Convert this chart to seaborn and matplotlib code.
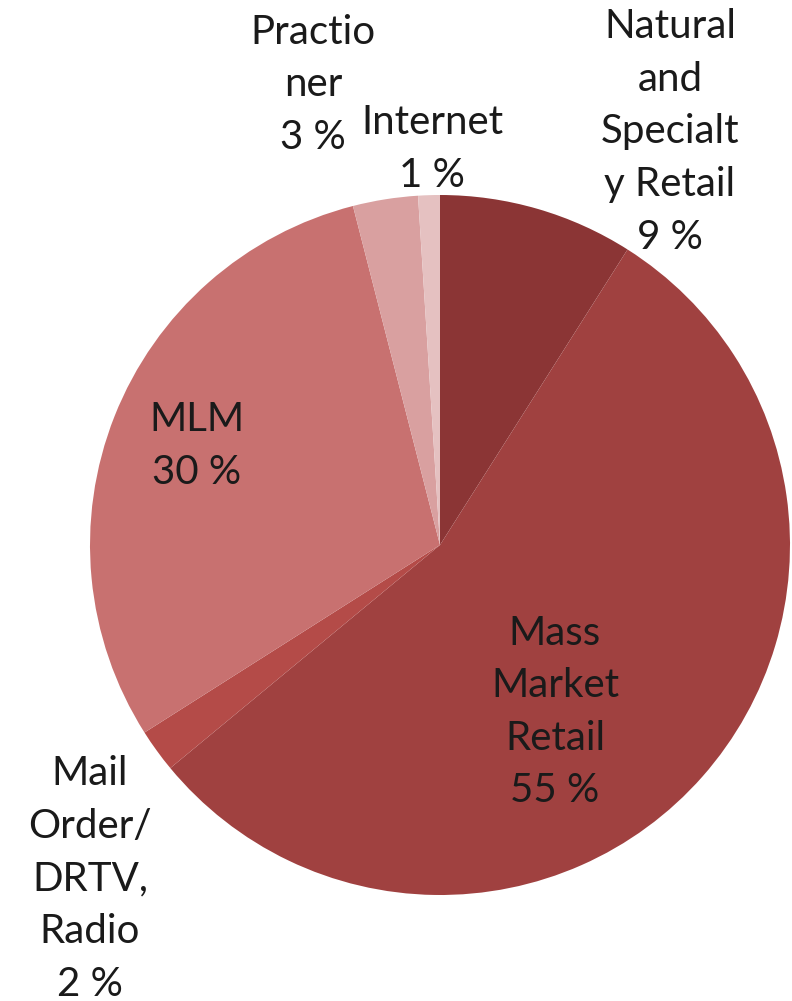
import matplotlib
matplotlib.use("Agg")
import matplotlib.pyplot as plt
import seaborn as sns

sns.set_theme(style="white")
plt.rcParams['font.family'] = ['Lato', 'DejaVu Sans']

categories = ["Natural\nand\nSpecialt\ny Retail", "Mass\nMarket\nRetail", "Mail\nOrder/\nDRTV,\nRadio",
              "MLM", "Practio\nner", "Internet"]
values = [9, 55, 2, 30, 3, 1]
colors = ["#8B3535", "#A04140", "#B44B48", "#C87170", "#D9A0A0", "#E5C1C1"]

# label centres in pixel coordinates of the 792x1001 canvas
label_px = [(670, 132), (555, 712), (90, 879), (197, 446), (313, 85), (432, 149)]

W, H = 792, 1001
cx, cy, r = 440, 545, 350

fig = plt.figure(figsize=(W / 100, H / 100), dpi=100)
ax = fig.add_axes([(cx - r) / W, (H - cy - r) / H, 2 * r / W, 2 * r / H])
ax.pie(values, colors=colors, startangle=90, counterclock=False, radius=1,
       wedgeprops=dict(linewidth=0))
ax.set_xlim(-1, 1)
ax.set_ylim(-1, 1)
ax.set_aspect("equal")
ax.axis("off")

for cat, val, (px, py) in zip(categories, values, label_px):
    fig.text(px / W, 1 - py / H, f"{cat}\n{val} %", ha="center", va="center",
             fontsize=29, color="#1a1a1a", linespacing=1.52)

fig.savefig("out.png", dpi=100)
